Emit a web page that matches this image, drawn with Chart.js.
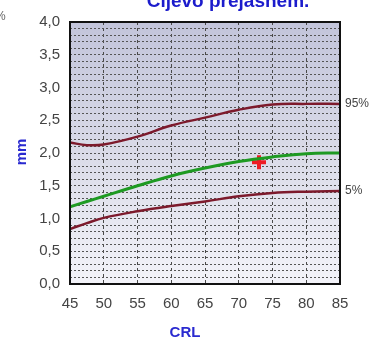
<!DOCTYPE html>
<html>
<head>
<meta charset="utf-8">
<script src="https://cdn.jsdelivr.net/npm/chart.js@4/dist/chart.umd.min.js"></script>
<style>
  html, body { margin: 0; padding: 0; background: #fff; }
  #wrap { width: 375px; height: 342px; position: relative; }
</style>
</head>
<body>
<div id="wrap"><canvas id="chart" width="375" height="342"></canvas></div>
<script>
// Data
const crl = [45, 47.5, 50, 55, 60, 65, 70, 75, 80, 85];
const p95 = [2.16, 2.12, 2.13, 2.25, 2.42, 2.54, 2.66, 2.74, 2.75, 2.75];
const p50 = [1.18, 1.26, 1.34, 1.5, 1.65, 1.77, 1.87, 1.94, 1.99, 2.0];
const p5 = [0.84, 0.93, 1.01, 1.11, 1.19, 1.26, 1.34, 1.39, 1.41, 1.42];
const measured = [{ x: 73, y: 1.86 }];
const curveLabels = ['95%', '5%'];
const titleText = 'Cijevo prejasnem.';

const toPoints = (arr) => crl.map((x, i) => ({ x, y: arr[i] }));

// Extra drawing: background gradient, frame, titles, percentile labels
const decorations = {
    id: 'decorations',
    beforeDraw(chart) {
        const { ctx, chartArea: a } = chart;
        const g = ctx.createLinearGradient(0, a.top, 0, a.bottom);
        g.addColorStop(0, '#c2c4da');
        g.addColorStop(0.5, '#dadbe8');
        g.addColorStop(1, '#f3f3f9');
        ctx.save();
        ctx.fillStyle = g;
        ctx.fillRect(a.left, a.top, a.right - a.left, a.bottom - a.top);
        ctx.restore();
    },
    afterDraw(chart) {
        const { ctx, chartArea: a, scales } = chart;
        ctx.save();
        // frame
        ctx.strokeStyle = '#111';
        ctx.lineWidth = 2;
        ctx.strokeRect(a.left, a.top, a.right - a.left, a.bottom - a.top);

        // title, top is cut off
        ctx.fillStyle = '#1c1ccc';
        ctx.font = 'bold 19px "Liberation Sans", Arial, sans-serif';
        ctx.textAlign = 'center';
        ctx.textBaseline = 'alphabetic';
        ctx.fillText(titleText, 228, 7);

        // stray % from neighbouring panel
        ctx.fillStyle = '#666';
        ctx.font = '12px "Liberation Sans", Arial, sans-serif';
        ctx.textAlign = 'left';
        ctx.textBaseline = 'middle';
        ctx.fillText('%', -5, 17);

        // axis titles
        ctx.fillStyle = '#2a2ad0';
        ctx.font = 'bold 15px "Liberation Sans", Arial, sans-serif';
        ctx.textAlign = 'center';
        ctx.fillText('CRL', (a.left + a.right) / 2 - 20, 333);

        ctx.save();
        ctx.translate(22, 152);
        ctx.rotate(-Math.PI / 2);
        ctx.font = 'bold 15px "Liberation Sans", Arial, sans-serif';
        ctx.fillText('mm', 0, 0);
        ctx.restore();

        // percentile labels at the curve ends
        ctx.fillStyle = '#444';
        ctx.font = '12px "Liberation Sans", Arial, sans-serif';
        ctx.textAlign = 'left';
        ctx.textBaseline = 'middle';
        ctx.fillText(curveLabels[0], a.right + 5, scales.y.getPixelForValue(p95[p95.length - 1]));
        ctx.fillText(curveLabels[1], a.right + 5, scales.y.getPixelForValue(p5[p5.length - 1]));
        ctx.restore();
    }
};

const tickFont = { family: '"Liberation Sans", Arial, sans-serif', size: 15 };

new Chart(document.getElementById('chart'), {
    type: 'line',
    data: {
        datasets: [
            {
                label: '95%',
                data: toPoints(p95),
                borderColor: '#7d1a2c',
                borderWidth: 2.5,
                pointRadius: 0,
                tension: 0.4,
                fill: false
            },
            {
                label: '50%',
                data: toPoints(p50),
                borderColor: '#1e9a22',
                borderWidth: 3,
                pointRadius: 0,
                tension: 0.4,
                fill: false
            },
            {
                label: '5%',
                data: toPoints(p5),
                borderColor: '#7d1a2c',
                borderWidth: 2.5,
                pointRadius: 0,
                tension: 0.4,
                fill: false
            },
            {
                label: 'measured',
                data: measured,
                showLine: false,
                pointStyle: 'cross',
                pointRadius: 7,
                pointBorderWidth: 4,
                pointBorderColor: '#ee1c24',
                borderColor: '#ee1c24'
            }
        ]
    },
    options: {
        responsive: false,
        animation: false,
        layout: { padding: { top: 22, right: 35, left: 0, bottom: 0 } },
        plugins: {
            legend: { display: false },
            tooltip: { enabled: false }
        },
        scales: {
            x: {
                type: 'linear',
                min: 45,
                max: 85,
                afterFit(scale) { scale.height = 58; },
                ticks: {
                    stepSize: 5,
                    color: '#444',
                    font: tickFont,
                    padding: 11,
                    maxRotation: 0
                },
                grid: {
                    color: '#4a4a4a',
                    lineWidth: 1,
                    drawTicks: false,
                    borderDash: [3, 3]
                },
                border: { display: false, dash: [3, 3] }
            },
            y: {
                min: 0,
                max: 4,
                afterFit(scale) { scale.width = 70; },
                ticks: {
                    stepSize: 0.1,
                    autoSkip: false,
                    color: '#444',
                    font: tickFont,
                    padding: 10,
                    callback: (v) => {
                        const t = Math.round(v * 10);
                        return t % 5 === 0 ? (t / 10).toFixed(1).replace('.', ',') : '';
                    }
                },
                grid: {
                    color: '#555',
                    lineWidth: 1,
                    drawTicks: false,
                    borderDash: [2, 2]
                },
                border: { display: false, dash: [2, 2] }
            }
        }
    },
    plugins: [decorations]
});
</script>
</body>
</html>
